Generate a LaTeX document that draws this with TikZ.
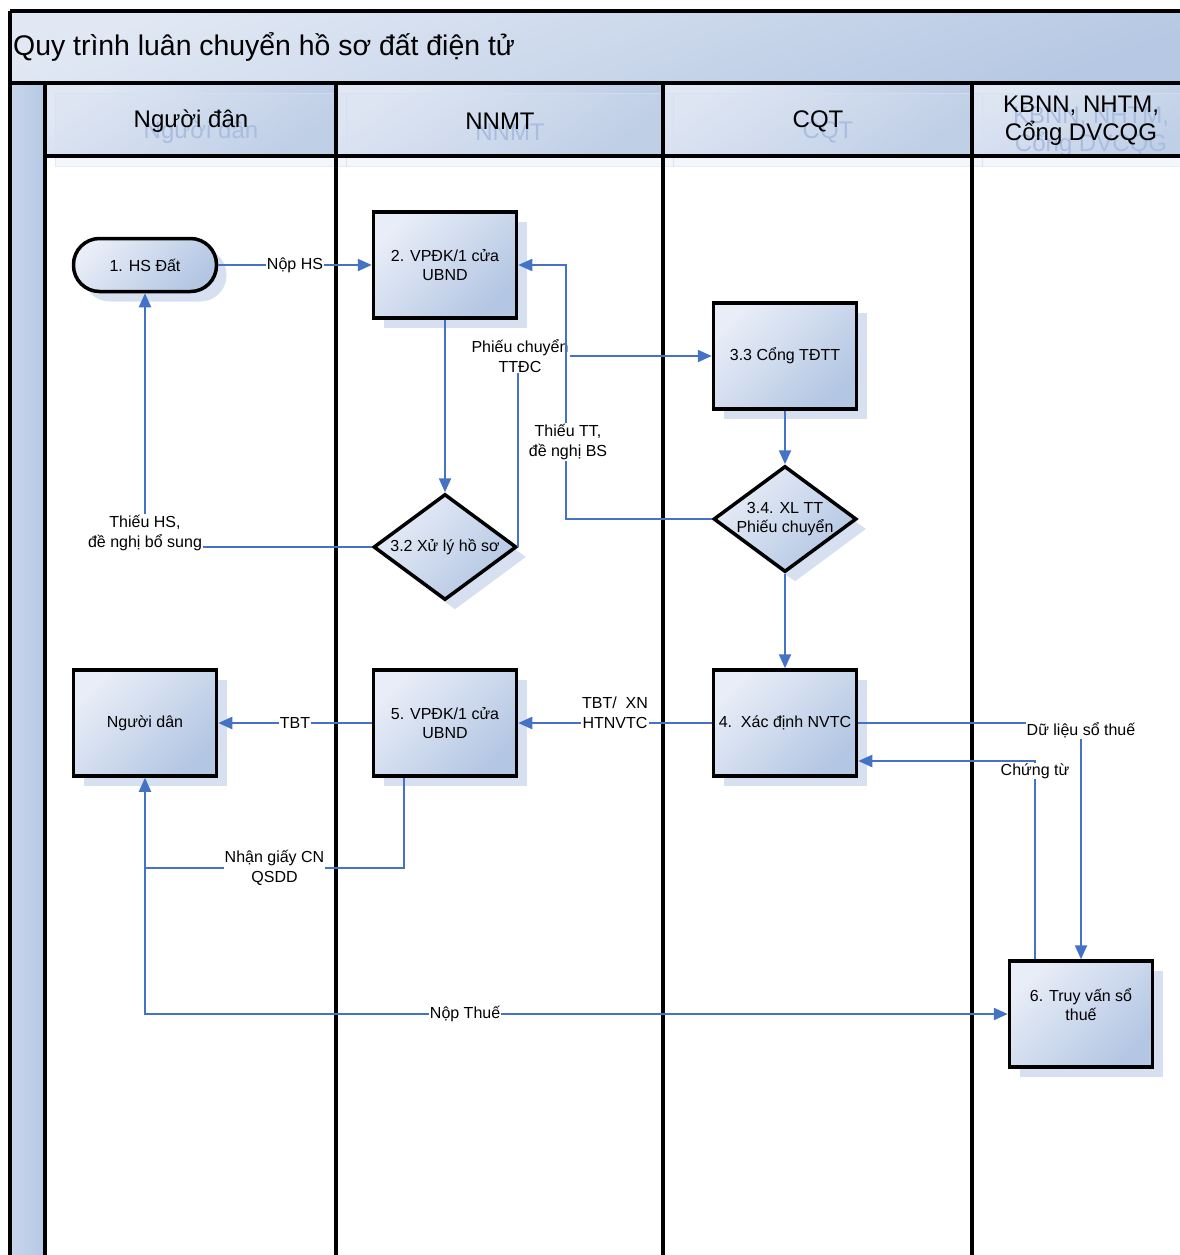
\documentclass[tikz,border=0pt]{standalone}
\usepackage{fontspec}
\setmainfont{Liberation Sans}
\usetikzlibrary{arrows.meta,shapes.geometric,shadows}
\definecolor{boxlight}{HTML}{E8EDF7}
\definecolor{boxdark}{HTML}{B3C6E3}
\definecolor{hdrlight}{HTML}{E1E8F4}
\definecolor{hdrdark}{HTML}{B6C8E3}
\definecolor{striplight}{HTML}{C8D6EC}
\definecolor{stripdark}{HTML}{B5C8E3}
\definecolor{shadowblue}{HTML}{D7E0F0}
\definecolor{ghostblue}{HTML}{A9BDDF}
\definecolor{flowblue}{HTML}{4472C4}
\tikzset{
  laneline/.style={line width=4pt, black},
  hdrtxt/.style={font=\fontsize{24}{28}\selectfont, align=center, inner sep=0pt},
  ghosttxt/.style={hdrtxt, text=ghostblue},
  hdrfill/.style={top color=hdrlight, bottom color=hdrdark, shading angle=35},
  hdrshadow/.style={fill=shadowblue, fill opacity=0.3, draw=shadowblue, draw opacity=0.6, line width=1pt},
  boxbase/.style={draw=black, line width=3.5pt, align=center, text=black,
    font=\fontsize{16}{19}\selectfont,
    top color=boxlight, bottom color=boxdark, shading angle=45,
    drop shadow={shadow xshift=10pt, shadow yshift=-10pt, fill=shadowblue, opacity=1}},
  procbox/.style={boxbase, rectangle, minimum width=143pt, minimum height=106pt, inner sep=2pt},
  stadium/.style={boxbase, rectangle, rounded corners=26pt, minimum width=143pt, minimum height=53pt},
  decision/.style={boxbase, diamond, aspect=1.35, minimum width=143pt, minimum height=106pt, inner sep=0pt},
  flow/.style={draw=flowblue, line width=2.2pt, -{Triangle[length=14pt,width=12pt]}},
  flowline/.style={draw=flowblue, line width=2.2pt},
  lbl/.style={fill=white, inner sep=1pt, text=black, align=center,
    font=\fontsize{16}{19.5}\selectfont}
}
\begin{document}
\begin{tikzpicture}[x=1pt,y=-1pt]
\useasboundingbox (0,0) rectangle (1180,1255);
\clip (0,0) rectangle (1180,1255);

% title band, lane headers and the left strip
\shade[top color=hdrlight, bottom color=hdrdark, shading angle=20] (10,11) rectangle (1200,83);
\shade[left color=striplight, right color=stripdark] (10,83) rectangle (45,1260);
\shade[hdrfill] (45,83) rectangle (336,156);
\shade[hdrfill] (336,83) rectangle (663,156);
\shade[hdrfill] (663,83) rectangle (972,156);
\shade[hdrfill] (972,83) rectangle (1190,156);

% soft shadows of the lane headers
\path[hdrshadow] (55,93) rectangle (346,166);
\path[hdrshadow] (346,93) rectangle (673,166);
\path[hdrshadow] (673,93) rectangle (982,166);
\path[hdrshadow] (982,93) rectangle (1200,166);
\node[ghosttxt] (g1) at (201,132) {Người dân};
\node[ghosttxt] (g2) at (510,132) {NNMT};
\node[ghosttxt] (g3) at (828,132) {CQT};
\node[ghosttxt] (g4) at (1091,132) {KBNN, NHTM,\\Cổng DVCQG};

% frame and lane dividers
\draw[laneline] (10,11) -- (1200,11);
\draw[laneline] (10,11) -- (10,1260);
\draw[laneline] (10,83) -- (1200,83);
\draw[laneline] (45,83) -- (45,1260);
\draw[laneline] (45,156) -- (1200,156);
\draw[laneline] (336,83) -- (336,1260);
\draw[laneline] (663,83) -- (663,1260);
\draw[laneline] (972,83) -- (972,1260);

% titles
\node[anchor=west, inner sep=0pt, font=\fontsize{28.4}{33}\selectfont] (title) at (13,47) {Quy trình luân chuyển hồ sơ đất điện tử};
\node[hdrtxt] (h1) at (191,121) {Người đân};
\node[hdrtxt] (h2) at (500,121) {NNMT};
\node[hdrtxt] (h3) at (818,121) {CQT};
\node[hdrtxt] (h4) at (1081,121) {KBNN, NHTM,\\Cổng DVCQG};

% process steps
\node[stadium] (hs) at (145,265) {1. HS Đất};
\node[procbox] (vp2) at (445,265) {2. VPĐK/1 cửa\\UBND};
\node[procbox] (c33) at (785,356) {3.3 Cổng TĐTT};
\node[decision] (d32) at (445,547) {3.2 Xử lý hồ sơ};
\node[decision] (d34) at (785,519) {3.4. XL TT\\Phiếu chuyển};
\node[procbox] (nd) at (145,723) {Người dân};
\node[procbox] (vp5) at (445,723) {5. VPĐK/1 cửa\\UBND};
\node[procbox] (n4) at (785,723) {4.\ \ Xác định NVTC};
\node[procbox] (n6) at (1081,1014) {6. Truy vấn sổ\\thuế\\\mbox{}};

% connectors
\draw[flow] (hs.east) -- node[lbl] {Nộp HS} (vp2.west);
\draw[flow] (vp2.south) -- (d32.north);

\node[lbl] (pc) at (520,356) {Phiếu chuyển\\TTĐC};
\draw[flowline] (d32.east) -- (d32.east |- pc.south);
\draw[flow] (pc.east) -- (pc.east -| c33.west);

\draw[flow] (c33.south) -- (c33.south |- d34.north);

\coordinate (tj) at (566,519);
\draw[flow] (d34.west) -- (tj) |- (vp2.east);
\node[lbl] (tt) at (568,442) {Thiếu TT,\\đề nghị BS};

\draw[flow] (d32.west) -| (hs.south);
\node[lbl] (ths) at (145,533) {Thiếu HS,\\đề nghị bổ sung};

\draw[flow] (d34.south) -- (d34.south |- n4.north);
\draw[flow] (n4.west) -- node[lbl, yshift=10pt] {TBT/\ \ XN\\HTNVTC} (vp5.east);
\draw[flow] (vp5.west) -- node[lbl] {TBT} (nd.east);

\coordinate (gq) at (404,868);
\draw[flow] (vp5.south -| gq) -- (gq) -- node[lbl] {Nhận giấy CN\\QSDD} (gq -| nd.south) -- (nd.south);
\draw[flow] (gq -| nd.south) -- (nd.south |- n6.west) -- node[lbl, pos=0.371] {Nộp Thuế} (n6.west);

\draw[flow] (n4.east) -- (n4.east -| n6.north) -- (n6.north);
\node[lbl] (dl) at (1081,730) {Dữ liệu sổ thuế};

\coordinate (ct) at (1035,761);
\draw[flow] (n6.north -| ct) -- (ct) -- (ct -| n4.east);
\node[lbl, anchor=north, inner sep=0.5pt] (ctl) at (1035,763) {Chứng từ};
\end{tikzpicture}
\end{document}
